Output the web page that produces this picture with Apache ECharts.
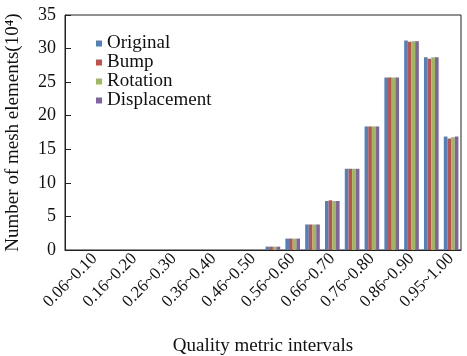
<!DOCTYPE html>
<html>
<head>
<meta charset="utf-8">
<script src="https://cdn.jsdelivr.net/npm/echarts@6/dist/echarts.min.js"></script>
<style>
html,body{margin:0;padding:0;background:#fff;}
#main{width:467px;height:356px;}
</style>
</head>
<body>
<div id="main"></div>
<script>
// 区间分类（只显示奇数位置的标签）
var categories = ['0.01~0.05','0.06~0.10','0.11~0.15','0.16~0.20','0.21~0.25','0.26~0.30',
    '0.31~0.35','0.36~0.40','0.41~0.45','0.46~0.50','0.51~0.55','0.56~0.60',
    '0.61~0.65','0.66~0.70','0.71~0.75','0.76~0.80','0.81~0.85','0.86~0.90',
    '0.91~0.95','0.95~1.00'];
var seriesNames = ['Original','Bump','Rotation','Displacement'];
var original     = [0,0,0,0,0,0,0,0,0,0,0.5,1.7,3.8,7.3,12.1,18.4,25.7,31.2,28.7,16.9];
var bump         = [0,0,0,0,0,0,0,0,0,0,0.5,1.7,3.8,7.4,12.1,18.4,25.7,31.0,28.5,16.6];
var rotation     = [0,0,0,0,0,0,0,0,0,0,0.5,1.7,3.8,7.3,12.1,18.4,25.7,31.1,28.7,16.8];
var displacement = [0,0,0,0,0,0,0,0,0,0,0.5,1.7,3.8,7.3,12.1,18.4,25.7,31.1,28.7,16.9];
var yTicks = [0,5,10,15,20,25,30,35];
var colors = ['#4f81bd','#c0504d','#9bbb59','#8064a2'];

var allData = [original, bump, rotation, displacement];
var font = 'Liberation Serif';
var showOdd = function(index){ return index % 2 === 1; };

var myChart = echarts.init(document.getElementById('main'));
var option = {
    animation: false,
    color: colors,
    textStyle: {fontFamily: font},
    grid: {
        left: 65, right: 6, top: 15, bottom: 106,
        outerBoundsMode: 'none',
        containLabel: false,
        show: true, borderColor: '#222', borderWidth: 1
    },
    legend: {
        orient: 'vertical',
        left: 91, top: 29,
        itemWidth: 6, itemHeight: 6, itemGap: 0,
        icon: 'rect',
        textStyle: {fontFamily: font, fontSize: 19, lineHeight: 19, color: '#111'},
        data: seriesNames
    },
    xAxis: {
        type: 'category',
        data: categories,
        name: 'Quality metric intervals',
        nameLocation: 'middle',
        nameGap: 87,
        nameTextStyle: {fontFamily: font, fontSize: 19, color: '#111'},
        axisLine: {lineStyle: {color: '#222'}},
        axisTick: {inside: true, alignWithLabel: true, interval: showOdd, length: 5, lineStyle: {color: '#222'}},
        axisLabel: {interval: showOdd, rotate: 45, fontFamily: font, fontSize: 17, color: '#111', margin: 6}
    },
    yAxis: {
        type: 'value',
        min: yTicks[0], max: yTicks[yTicks.length - 1], interval: 5,
        name: 'Number of mesh elements(10\u2074)',
        nameLocation: 'middle',
        nameGap: 42,
        nameTextStyle: {fontFamily: font, fontSize: 19, color: '#111'},
        axisLine: {show: true, lineStyle: {color: '#222'}},
        axisTick: {show: true, inside: true, length: 6, lineStyle: {color: '#222'}},
        axisLabel: {fontFamily: font, fontSize: 18, color: '#111', margin: 9},
        splitLine: {show: false}
    },
    series: seriesNames.map(function(name, k){
        return {
            name: name,
            type: 'bar',
            data: allData[k],
            barGap: '0%',
            barCategoryGap: '26%'
        };
    })
};
myChart.setOption(option);
</script>
</body>
</html>
